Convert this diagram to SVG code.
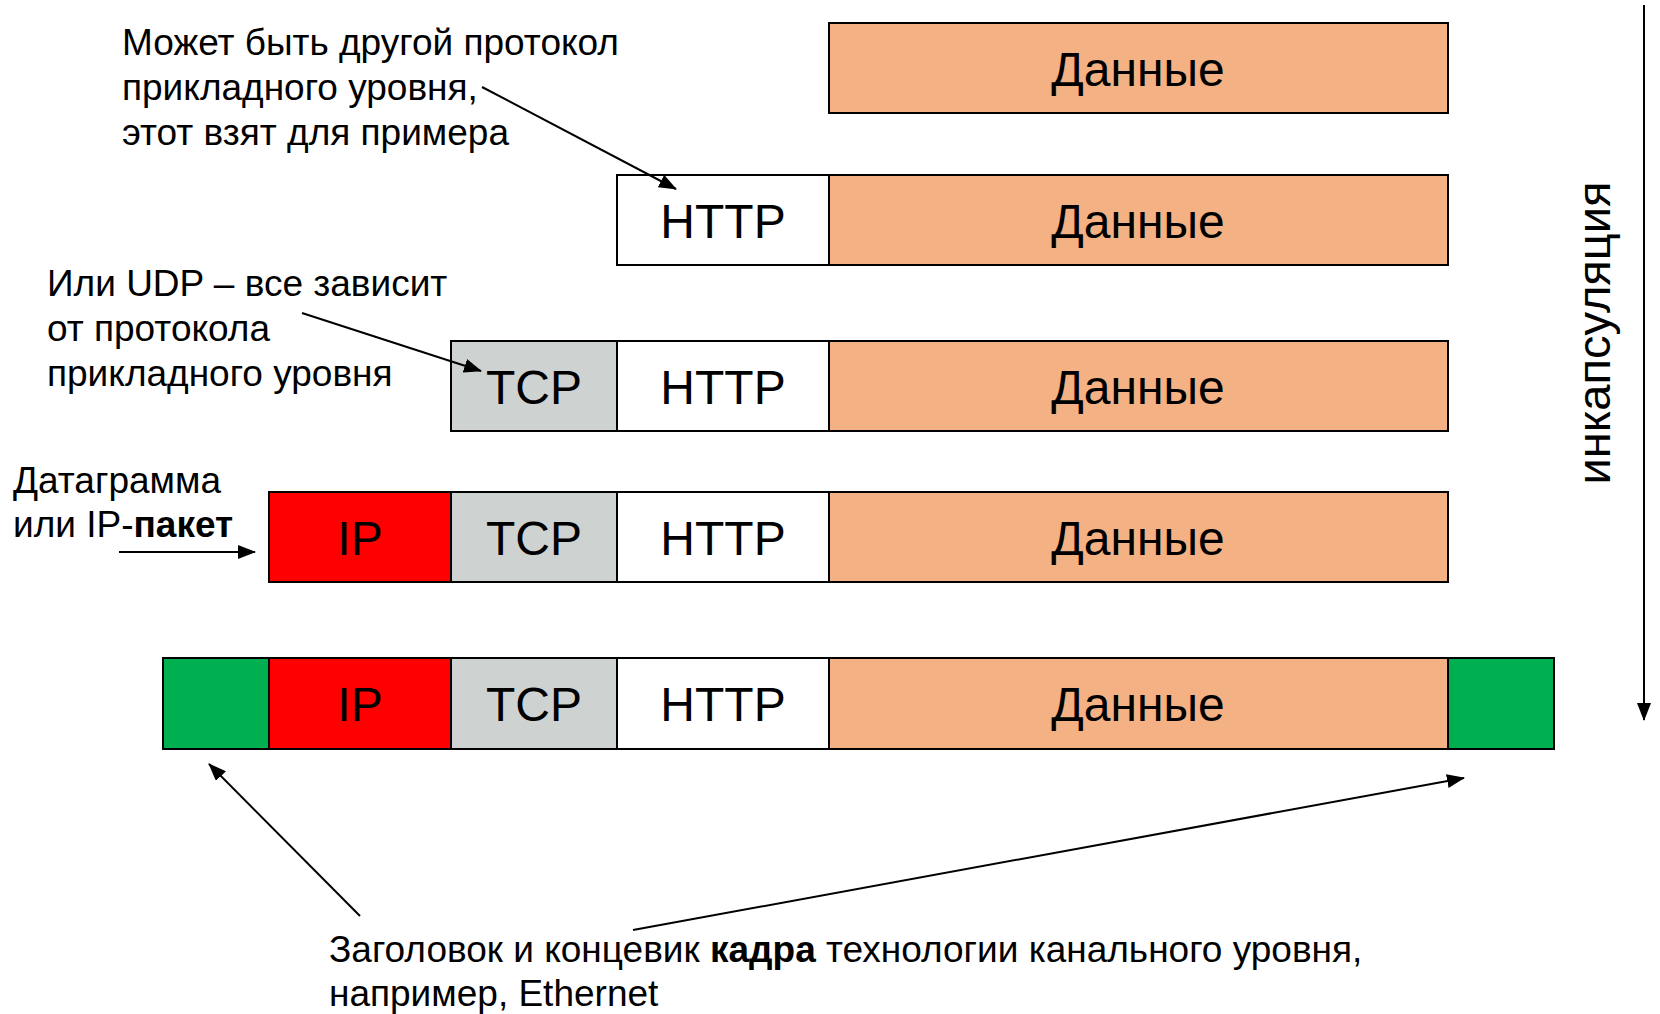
<svg xmlns="http://www.w3.org/2000/svg" width="1660" height="1014" viewBox="0 0 1660 1014">
<style>
text { font-family: "Liberation Sans", Arial, sans-serif; fill: #000; }
.note { font-size: 37px; }
.lbl { font-size: 48px; text-anchor: middle; }
.cell { stroke: #000; stroke-width: 2; }
.data { fill: #F4B183; }
.http { fill: #FFFFFF; }
.tcp { fill: #CED3D1; }
.ip { fill: #FF0000; }
.eth { fill: #00B050; }
.b { font-weight: bold; }
.conn { stroke: #000; stroke-width: 2; fill: none; marker-end: url(#ah); }
</style>
<defs>
<marker id="ah" markerUnits="userSpaceOnUse" markerWidth="18" markerHeight="14" refX="17" refY="7" orient="auto">
<path d="M0,0 L18,7 L0,14 Z" fill="#000"/>
</marker>
</defs>
<rect width="1660" height="1014" fill="#FFFFFF"/>

<!-- Row 1 -->
<g id="row1-data"><rect class="cell data" x="829" y="23" width="619" height="90"/><text class="lbl" x="1138" y="86">Данные</text></g>

<!-- Row 2 -->
<g id="row2-http"><rect class="cell http" x="617" y="175" width="212" height="90"/><text class="lbl" x="723" y="238">HTTP</text></g>
<g id="row2-data"><rect class="cell data" x="829" y="175" width="619" height="90"/><text class="lbl" x="1138" y="238">Данные</text></g>

<!-- Row 3 -->
<g id="row3-tcp"><rect class="cell tcp" x="451" y="341" width="166" height="90"/><text class="lbl" x="534" y="404">TCP</text></g>
<g id="row3-http"><rect class="cell http" x="617" y="341" width="212" height="90"/><text class="lbl" x="723" y="404">HTTP</text></g>
<g id="row3-data"><rect class="cell data" x="829" y="341" width="619" height="90"/><text class="lbl" x="1138" y="404">Данные</text></g>

<!-- Row 4 -->
<g id="row4-ip"><rect class="cell ip" x="269" y="492" width="182" height="90"/><text class="lbl" x="360" y="555">IP</text></g>
<g id="row4-tcp"><rect class="cell tcp" x="451" y="492" width="166" height="90"/><text class="lbl" x="534" y="555">TCP</text></g>
<g id="row4-http"><rect class="cell http" x="617" y="492" width="212" height="90"/><text class="lbl" x="723" y="555">HTTP</text></g>
<g id="row4-data"><rect class="cell data" x="829" y="492" width="619" height="90"/><text class="lbl" x="1138" y="555">Данные</text></g>

<!-- Row 5 -->
<g id="row5-header"><rect class="cell eth" x="163" y="658" width="106" height="91"/></g>
<g id="row5-ip"><rect class="cell ip" x="269" y="658" width="182" height="91"/><text class="lbl" x="360" y="721">IP</text></g>
<g id="row5-tcp"><rect class="cell tcp" x="451" y="658" width="166" height="91"/><text class="lbl" x="534" y="721">TCP</text></g>
<g id="row5-http"><rect class="cell http" x="617" y="658" width="212" height="91"/><text class="lbl" x="723" y="721">HTTP</text></g>
<g id="row5-data"><rect class="cell data" x="829" y="658" width="619" height="91"/><text class="lbl" x="1138" y="721">Данные</text></g>
<g id="row5-trailer"><rect class="cell eth" x="1448" y="658" width="106" height="91"/></g>

<!-- Notes -->
<g id="note-app">
<text class="note" x="122" y="55">Может быть другой протокол</text>
<text class="note" x="122" y="100">прикладного уровня,</text>
<text class="note" x="122" y="145">этот взят для примера</text>
</g>
<g id="note-udp">
<text class="note" x="47" y="296">Или UDP – все зависит</text>
<text class="note" x="47" y="341">от протокола</text>
<text class="note" x="47" y="386">прикладного уровня</text>
</g>
<g id="note-datagram">
<text class="note" x="13" y="493">Датаграмма</text>
<text class="note" x="13" y="537">или IP-<tspan class="b">пакет</tspan></text>
</g>
<g id="note-frame">
<text class="note" x="329" y="962">Заголовок и концевик <tspan class="b">кадра</tspan> технологии канального уровня,</text>
<text class="note" x="329" y="1006">например, Ethernet</text>
</g>
<g id="note-encap">
<text x="0" y="0" font-size="47" text-anchor="middle" transform="translate(1610,333) rotate(-90)">инкапсуляция</text>
</g>

<!-- Connectors -->
<g id="connectors">
<line class="conn" x1="482" y1="87" x2="676" y2="189"/>
<line class="conn" x1="302" y1="313" x2="481" y2="371"/>
<line class="conn" x1="119" y1="552" x2="255" y2="552"/>
<line class="conn" x1="360" y1="916" x2="209" y2="764"/>
<line class="conn" x1="633" y1="930" x2="1464" y2="778"/>
<line class="conn" x1="1644" y1="5" x2="1644" y2="720"/>
</g>
</svg>
